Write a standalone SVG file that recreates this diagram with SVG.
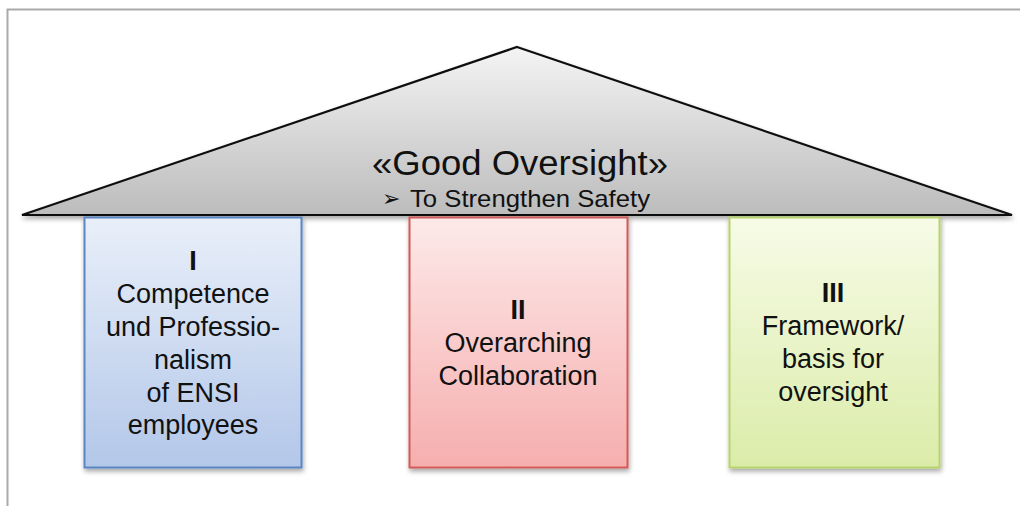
<svg xmlns="http://www.w3.org/2000/svg" width="1020" height="506" viewBox="0 0 1020 506">
  <defs>
    <linearGradient id="roofFill" x1="0" y1="0" x2="0" y2="1">
      <stop offset="0" stop-color="#f4f4f4"/>
      <stop offset="1" stop-color="#bcbcbc"/>
    </linearGradient>
    <linearGradient id="blueFill" x1="0" y1="0" x2="0" y2="1">
      <stop offset="0" stop-color="#e9eff9"/>
      <stop offset="1" stop-color="#b3c7e9"/>
    </linearGradient>
    <linearGradient id="redFill" x1="0" y1="0" x2="0" y2="1">
      <stop offset="0" stop-color="#fde9e9"/>
      <stop offset="1" stop-color="#f6aeae"/>
    </linearGradient>
    <linearGradient id="greenFill" x1="0" y1="0" x2="0" y2="1">
      <stop offset="0" stop-color="#f7fbe7"/>
      <stop offset="1" stop-color="#dbeca9"/>
    </linearGradient>
    <filter id="shadow" x="-10%" y="-10%" width="125%" height="125%">
      <feGaussianBlur in="SourceAlpha" stdDeviation="2.5"/>
      <feOffset dx="1" dy="3" result="b"/>
      <feComponentTransfer><feFuncA type="linear" slope="0.35"/></feComponentTransfer>
      <feMerge><feMergeNode/><feMergeNode in="SourceGraphic"/></feMerge>
    </filter>
  </defs>
  <style>
    .frame { stroke: #aaaaaa; stroke-width: 2; fill: none; }
    .t { font-family: "Liberation Sans", Arial, sans-serif; fill: #111; text-anchor: middle; }
    .body { font-size: 27px; }
    .num { font-size: 27px; font-weight: bold; }
  </style>

  <rect width="1020" height="506" fill="#ffffff"/>
  <!-- page frame (top and left edges) -->
  <polyline class="frame" points="1020,9.5 7.5,9.5 7.5,506"/>

  <!-- roof -->
  <g id="roof">
    <polygon points="517,47 1012,215 22,215" fill="url(#roofFill)" stroke="#111" stroke-width="2.2" stroke-linejoin="miter" filter="url(#shadow)"/>
    <text class="t" x="520" y="175" font-size="35" textLength="296" lengthAdjust="spacingAndGlyphs">«Good Oversight»</text>
    <text class="t" x="391" y="206" font-size="22" font-family="'DejaVu Sans', sans-serif">➢</text>
    <text x="410" y="207" font-size="24" font-family="'Liberation Sans', Arial, sans-serif" fill="#111" textLength="240" lengthAdjust="spacingAndGlyphs">To Strengthen Safety</text>
  </g>

  <!-- pillar I -->
  <g id="pillar-1">
    <rect x="84.5" y="217.5" width="217" height="250" fill="url(#blueFill)" stroke="#5a86c4" stroke-width="2" filter="url(#shadow)"/>
    <text class="t num" x="193" y="270">I</text>
    <text class="t body" x="193" y="303">Competence</text>
    <text class="t body" x="193" y="336">und Professio-</text>
    <text class="t body" x="193" y="369">nalism</text>
    <text class="t body" x="193" y="402">of ENSI</text>
    <text class="t body" x="193" y="434">employees</text>
  </g>

  <!-- pillar II -->
  <g id="pillar-2">
    <rect x="409.5" y="217.5" width="218" height="250" fill="url(#redFill)" stroke="#d25a59" stroke-width="2" filter="url(#shadow)"/>
    <text class="t num" x="518" y="319">II</text>
    <text class="t body" x="518" y="352">Overarching</text>
    <text class="t body" x="518" y="385">Collaboration</text>
  </g>

  <!-- pillar III -->
  <g id="pillar-3">
    <rect x="729.5" y="217.5" width="210" height="250" fill="url(#greenFill)" stroke="#b7d46c" stroke-width="2" filter="url(#shadow)"/>
    <text class="t num" x="833" y="302">III</text>
    <text class="t body" x="833" y="335">Framework/</text>
    <text class="t body" x="833" y="368">basis for</text>
    <text class="t body" x="833" y="401">oversight</text>
  </g>

  <g id="connectors"/>
</svg>
